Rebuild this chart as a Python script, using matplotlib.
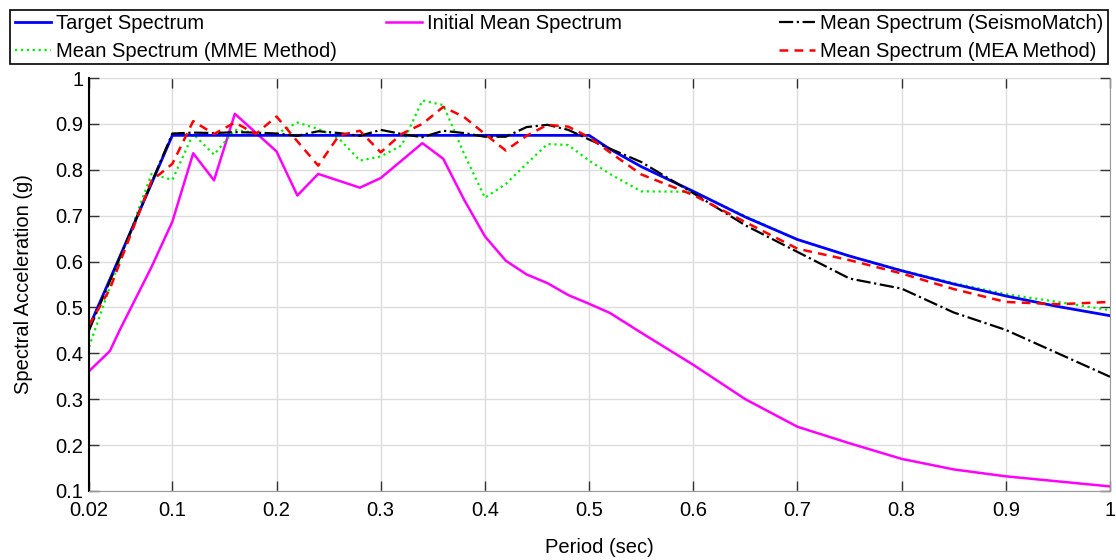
import numpy
from matplotlib import pyplot
from matplotlib.patches import Rectangle

# DATA
period = [0.02, 0.04, 0.05, 0.08, 0.1, 0.12, 0.14, 0.16, 0.18, 0.2,
          0.22, 0.24, 0.26, 0.28, 0.3, 0.32, 0.34, 0.36, 0.38, 0.4,
          0.42, 0.44, 0.46, 0.48, 0.5, 0.52, 0.55, 0.6, 0.65, 0.7,
          0.75, 0.8, 0.85, 0.9, 0.95, 1.0]

target = [0.457, 0.561, 0.613, 0.770, 0.875, 0.875, 0.875, 0.875, 0.875, 0.875,
          0.875, 0.875, 0.875, 0.875, 0.875, 0.875, 0.875, 0.875, 0.875, 0.875,
          0.875, 0.875, 0.875, 0.875, 0.875, 0.845, 0.807, 0.753, 0.697, 0.648,
          0.612, 0.580, 0.551, 0.525, 0.502, 0.482]

initial = [0.361, 0.405, 0.453, 0.588, 0.687, 0.836, 0.777, 0.922, 0.881, 0.840,
           0.744, 0.791, 0.776, 0.761, 0.782, 0.820, 0.858, 0.824, 0.735, 0.655,
           0.602, 0.572, 0.553, 0.527, 0.508, 0.488, 0.445, 0.375, 0.300, 0.240,
           0.204, 0.170, 0.147, 0.132, 0.121, 0.110]

seismomatch = [0.450, 0.557, 0.611, 0.772, 0.879, 0.881, 0.880, 0.882, 0.881, 0.879,
               0.874, 0.884, 0.880, 0.874, 0.887, 0.878, 0.871, 0.885, 0.880, 0.872,
               0.872, 0.893, 0.898, 0.887, 0.866, 0.846, 0.817, 0.749, 0.679, 0.621,
               0.563, 0.541, 0.489, 0.451, 0.400, 0.349]

mme = [0.414, 0.544, 0.605, 0.791, 0.778, 0.878, 0.833, 0.887, 0.880, 0.878,
       0.903, 0.889, 0.868, 0.820, 0.829, 0.853, 0.951, 0.941, 0.835, 0.739,
       0.769, 0.813, 0.856, 0.854, 0.820, 0.791, 0.753, 0.752, 0.699, 0.648,
       0.612, 0.581, 0.553, 0.529, 0.512, 0.494]

mea = [0.461, 0.540, 0.600, 0.776, 0.813, 0.906, 0.878, 0.903, 0.878, 0.916,
       0.862, 0.809, 0.875, 0.885, 0.838, 0.878, 0.900, 0.937, 0.915, 0.878,
       0.842, 0.874, 0.898, 0.894, 0.871, 0.838, 0.790, 0.745, 0.686, 0.628,
       0.603, 0.574, 0.540, 0.512, 0.507, 0.512]

xticks = [0.02, 0.1, 0.2, 0.3, 0.4, 0.5, 0.6, 0.7, 0.8, 0.9, 1.0]
xticklabels = ['0.02', '0.1', '0.2', '0.3', '0.4', '0.5', '0.6', '0.7', '0.8', '0.9', '1']
yticks = [0.1, 0.2, 0.3, 0.4, 0.5, 0.6, 0.7, 0.8, 0.9, 1.0]
yticklabels = ['0.1', '0.2', '0.3', '0.4', '0.5', '0.6', '0.7', '0.8', '0.9', '1']

# FIGURE
pyplot.rcParams['font.family'] = ['Liberation Sans', 'DejaVu Sans']
W, H = 1116, 560
fig = pyplot.figure(figsize=(W / 100.0, H / 100.0), dpi=100)
ax = fig.add_axes([89.0 / W, 1 - 491.0 / H, (1110.0 - 89) / W, (491.0 - 78) / H])

# CURVES
l_init, = ax.plot(period, initial, '-', color='#ff00ff', lw=1.8)
l_mme, = ax.plot(period, mme, ':', color='#00ee00', lw=1.6)
l_tgt, = ax.plot(period, target, '-', color='#0000ff', lw=2.0)
l_sm, = ax.plot(period, seismomatch, '-.', color='black', lw=1.6)
l_mea, = ax.plot(period, mea, '--', color='#ff0000', lw=1.8, dashes=(3.5, 2.5))

# AXES
ax.set_xlim(0.02, 1.0)
ax.set_ylim(0.1, 1.0)
ax.set_xticks(xticks)
ax.set_xticklabels(xticklabels)
ax.set_yticks(yticks)
ax.set_yticklabels(yticklabels)
ax.tick_params(direction='in', length=7, width=1, top=True, right=True,
               labelsize=14.5, color='#333333')
ax.tick_params(axis='x', pad=7)
ax.tick_params(axis='y', pad=4)
ax.grid(True, color='#dcdcdc', lw=1)
ax.set_axisbelow(True)
ax.spines['top'].set_visible(False)
ax.spines['left'].set_color('black')
ax.spines['left'].set_linewidth(1.5)
ax.spines['bottom'].set_color('#999999')
ax.spines['right'].set_color('#999999')
ax.set_xlabel('Period (sec)', fontsize=14.5, labelpad=13)
ax.set_ylabel('Spectral Acceleration (g)', fontsize=14.5, labelpad=16)

# LEGEND (three columns in one frame)
fig.patches.append(Rectangle((9.5 / W, 1 - 64.0 / H), (1108.0 - 9.5) / W, (64.0 - 9.5) / H,
                             transform=fig.transFigure, fill=False, ec='black', lw=1.2))
opts = dict(loc='upper left', frameon=False, fontsize=14.5, borderpad=0, borderaxespad=0,
            handlelength=1.8, handletextpad=0.25, labelspacing=0.45)
fig.legend([l_tgt, l_mme], ['Target Spectrum', 'Mean Spectrum (MME Method)'],
           bbox_to_anchor=(15.0 / W, 1 - 14.0 / H), **opts)
fig.legend([l_init], ['Initial Mean Spectrum'],
           bbox_to_anchor=(386.0 / W, 1 - 14.0 / H), **opts)
fig.legend([l_sm, l_mea], ['Mean Spectrum (SeismoMatch)', 'Mean Spectrum (MEA Method)'],
           bbox_to_anchor=(779.0 / W, 1 - 14.0 / H), **opts)

fig.savefig('out.png', dpi=100)
